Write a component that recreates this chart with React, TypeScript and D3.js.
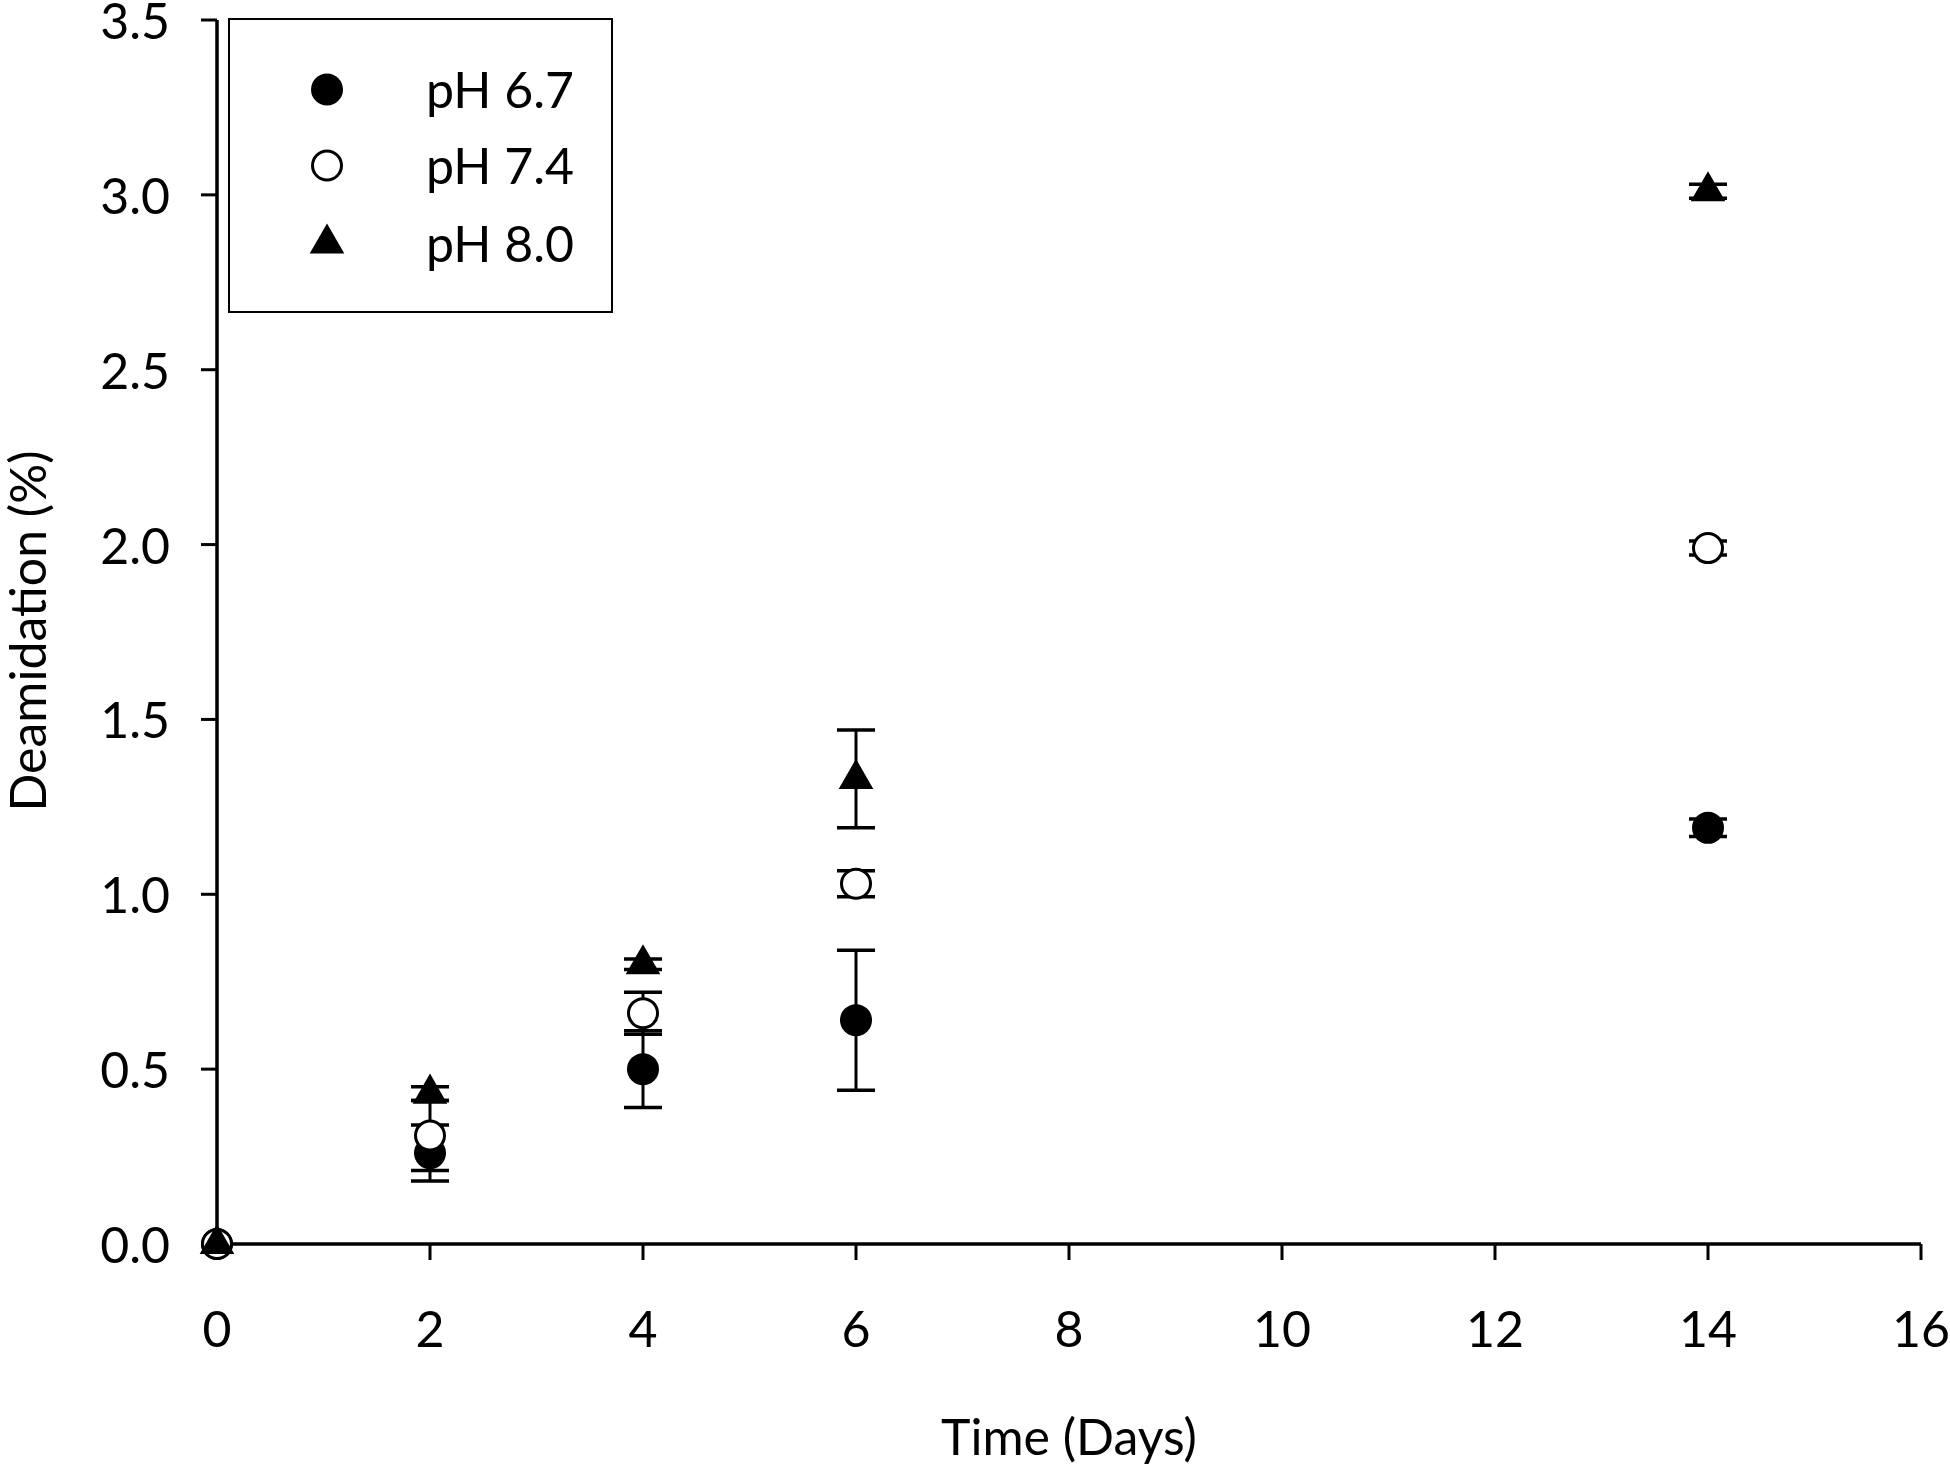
import React, { useEffect, useRef } from "react";
import * as d3 from "d3";

const days = [0, 2, 4, 6, 14];
const ph67 = [0, 0.26, 0.5, 0.64, 1.19];
const ph67Err = [0, 0.08, 0.11, 0.2, 0.025];
const ph74 = [0, 0.31, 0.66, 1.03, 1.99];
const ph74Err = [0, 0.1, 0.06, 0.037, 0.02];
const ph80 = [0, 0.43, 0.8, 1.33, 3.01];
const ph80Err = [0, 0.02, 0.015, 0.14, 0.02];

const xTicks = [0, 2, 4, 6, 8, 10, 12, 14, 16];
const yTicks = [0, 0.5, 1, 1.5, 2, 2.5, 3, 3.5];
const seriesNames = ["pH 6.7", "pH 7.4", "pH 8.0"];
const xTitle = "Time (Days)";
const yTitle = "Deamidation (%)";

const W = 1950;
const H = 1466;
const FONT = "Lato, 'Open Sans', sans-serif";

export default function App() {
  const ref = useRef<SVGSVGElement | null>(null);

  useEffect(() => {
    const svg = d3.select(ref.current);
    svg.selectAll("*").remove();

    const x = d3.scaleLinear().domain([0, 16]).range([217, 1921]);
    const y = d3.scaleLinear().domain([0, 3.5]).range([1244, 20]);

    const g = svg.append("g");

    const x0 = x(0), y0 = y(0);
    g.append("line").attr("x1", x0).attr("x2", x(16)).attr("y1", y0).attr("y2", y0)
      .attr("stroke", "#000").attr("stroke-width", 3.5);
    g.append("line").attr("x1", x0).attr("x2", x0).attr("y1", y(3.5)).attr("y2", y0)
      .attr("stroke", "#000").attr("stroke-width", 3.5);

    xTicks.forEach((t) => {
      g.append("line").attr("x1", x(t)).attr("x2", x(t)).attr("y1", y0).attr("y2", y0 + 16)
        .attr("stroke", "#000").attr("stroke-width", 3);
      g.append("text").attr("x", x(t)).attr("y", 1347).attr("text-anchor", "middle")
        .attr("font-family", FONT).attr("font-size", 50).text(String(t));
    });
    yTicks.forEach((t) => {
      g.append("line").attr("x1", x0 - 16).attr("x2", x0).attr("y1", y(t)).attr("y2", y(t))
        .attr("stroke", "#000").attr("stroke-width", 3);
      g.append("text").attr("x", 170).attr("y", y(t) + 19).attr("text-anchor", "end")
        .attr("font-family", FONT).attr("font-size", 50).text(t.toFixed(1));
    });

    g.append("text").attr("x", 1069).attr("y", 1455).attr("text-anchor", "middle")
      .attr("font-family", FONT).attr("font-size", 50).text(xTitle);
    g.append("text").attr("transform", `translate(46,631) rotate(-90)`).attr("text-anchor", "middle")
      .attr("font-family", FONT).attr("font-size", 50).text(yTitle);

    const tri = d3.symbol().type(d3.symbolTriangle).size(520);

    const drawMarker = (sel: any, kind: number, cx: number, cy: number) => {
      if (kind === 0) {
        sel.append("circle").attr("cx", cx).attr("cy", cy).attr("r", 16).attr("fill", "#000");
      } else if (kind === 1) {
        sel.append("circle").attr("cx", cx).attr("cy", cy).attr("r", 14.5).attr("fill", "#fff")
          .attr("stroke", "#000").attr("stroke-width", 3);
      } else {
        sel.append("path").attr("d", tri()).attr("transform", `translate(${cx},${cy})`).attr("fill", "#000");
      }
    };

    const series = [
      { vals: ph67, errs: ph67Err },
      { vals: ph74, errs: ph74Err },
      { vals: ph80, errs: ph80Err },
    ];

    series.forEach((s, k) => {
      const sg = g.append("g");
      days.forEach((d, i) => {
        const v = s.vals[i];
        const e = s.errs[i];
        const cx = x(d);
        if (e > 0) {
          const yt = y(v + e), yb = y(v - e);
          sg.append("line").attr("x1", cx).attr("x2", cx).attr("y1", yt).attr("y2", yb)
            .attr("stroke", "#000").attr("stroke-width", 3);
          [yt, yb].forEach((yy) => {
            sg.append("line").attr("x1", cx - 19).attr("x2", cx + 19).attr("y1", yy).attr("y2", yy)
              .attr("stroke", "#000").attr("stroke-width", 3.5);
          });
        }
        drawMarker(sg, k, cx, y(v));
      });
    });

    const lg = g.append("g");
    lg.append("rect").attr("x", 229).attr("y", 19).attr("width", 383).attr("height", 293)
      .attr("fill", "#fff").attr("stroke", "#000").attr("stroke-width", 2);
    const rows = [89.5, 165.5, 243.5];
    seriesNames.forEach((name, k) => {
      drawMarker(lg, k, 327, rows[k]);
      lg.append("text").attr("x", 426).attr("y", rows[k] + 18).attr("font-family", FONT)
        .attr("font-size", 50).text(name);
    });
  }, []);

  return (
    <svg
      ref={ref}
      width={W}
      height={H}
      style={{ position: "absolute", left: 0, top: 0, background: "#fff" }}
    />
  );
}
